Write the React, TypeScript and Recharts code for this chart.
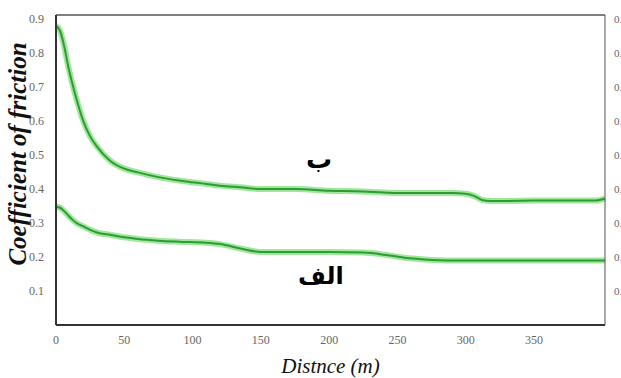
import { Label, Line, LineChart, ReferenceLine, XAxis, YAxis } from "recharts";

// distance (m) and the two friction curves
const DIST = [0, 3, 6, 9, 12, 15, 20, 25, 30, 40, 50, 60, 75, 90, 110, 120, 135, 150, 175, 200, 225, 240, 255, 270, 290, 300, 306, 312, 318, 330, 350, 375, 395, 402];
const UPPER = [0.88, 0.865, 0.82, 0.76, 0.71, 0.665, 0.6, 0.555, 0.525, 0.482, 0.46, 0.449, 0.435, 0.425, 0.415, 0.41, 0.405, 0.4, 0.4, 0.395, 0.393, 0.39, 0.388, 0.388, 0.388, 0.386, 0.38, 0.368, 0.365, 0.365, 0.366, 0.366, 0.366, 0.372];
const LOWER = [0.348, 0.345, 0.335, 0.322, 0.31, 0.3, 0.29, 0.28, 0.272, 0.265, 0.258, 0.253, 0.248, 0.245, 0.242, 0.238, 0.225, 0.215, 0.215, 0.215, 0.213, 0.207, 0.198, 0.193, 0.19, 0.19, 0.19, 0.19, 0.19, 0.19, 0.19, 0.19, 0.19, 0.19];
const X_TICKS = [0, 50, 100, 150, 200, 250, 300, 350];
const Y_TICKS = [0.1, 0.2, 0.3, 0.4, 0.5, 0.6, 0.7, 0.8, 0.9];

const data = DIST.map((d, i) => ({ d, upper: UPPER[i], lower: LOWER[i] }));

const FONT = "'Liberation Serif', serif";
const TICK = { fill: "#666", fontSize: 12, fontFamily: FONT };
const GLOW = "#9fe89a";
const INK = "#2f9a38";

function YTitle() {
  return (
    <text
      transform="translate(26,154) rotate(-90)"
      textAnchor="middle"
      style={{ fontFamily: FONT, fontStyle: "italic", fontWeight: "bold", fontSize: 25, fill: "#111" }}
    >
      Coefficient of friction
    </text>
  );
}

export default function App() {
  return (
    <div style={{ position: "absolute", left: 0, top: 0, width: 621, height: 378, background: "#fff", overflow: "hidden" }}>
      <LineChart width={640} height={378} data={data} margin={{ top: 15, right: 0, bottom: 0, left: 0 }}>
        <XAxis
          type="number"
          dataKey="d"
          domain={[0, 402]}
          ticks={X_TICKS}
          tick={TICK}
          tickLine={false}
          axisLine={{ stroke: "#333", strokeWidth: 2 }}
          height={53}
          tickMargin={4}
        >
          <Label
            value="Distnce (m)"
            position="insideBottom"
            offset={5}
            style={{ fontFamily: FONT, fontStyle: "italic", fontSize: 21, fill: "#111" }}
          />
        </XAxis>
        <YAxis
          yAxisId="l"
          domain={[0, 0.912]}
          ticks={Y_TICKS}
          tick={TICK}
          tickLine={false}
          axisLine={{ stroke: "#333", strokeWidth: 2 }}
          width={56}
          tickMargin={6}
        >
          <Label content={<YTitle />} />
        </YAxis>
        <YAxis
          yAxisId="r"
          orientation="right"
          domain={[0, 0.912]}
          ticks={Y_TICKS}
          tick={{ ...TICK, fontSize: 11 }}
          tickLine={false}
          axisLine={{ stroke: "#555", strokeWidth: 1 }}
          width={35}
          tickMargin={3}
          interval={0}
        />
        <ReferenceLine yAxisId="l" y={0.912} stroke="#555" strokeWidth={1.5} />
        <Line yAxisId="r" isAnimationActive={false} type="monotone" dataKey="upper" stroke={GLOW} strokeWidth={6} dot={false} />
        <Line yAxisId="l" isAnimationActive={false} type="monotone" dataKey="upper" stroke={INK} strokeWidth={2} dot={false} />
        <Line yAxisId="r" isAnimationActive={false} type="monotone" dataKey="lower" stroke={GLOW} strokeWidth={6} dot={false} />
        <Line yAxisId="l" isAnimationActive={false} type="monotone" dataKey="lower" stroke={INK} strokeWidth={2} dot={false} />
      </LineChart>
      <div style={{ position: "absolute", left: 306, top: 146, fontSize: 26, fontWeight: "bold", fontFamily: "'DejaVu Sans', sans-serif", color: "#000", lineHeight: 1 }}>ب</div>
      <div style={{ position: "absolute", left: 298, top: 264, fontSize: 24, fontWeight: "bold", fontFamily: "'DejaVu Sans', sans-serif", color: "#000", lineHeight: 1 }}>الف</div>
    </div>
  );
}
